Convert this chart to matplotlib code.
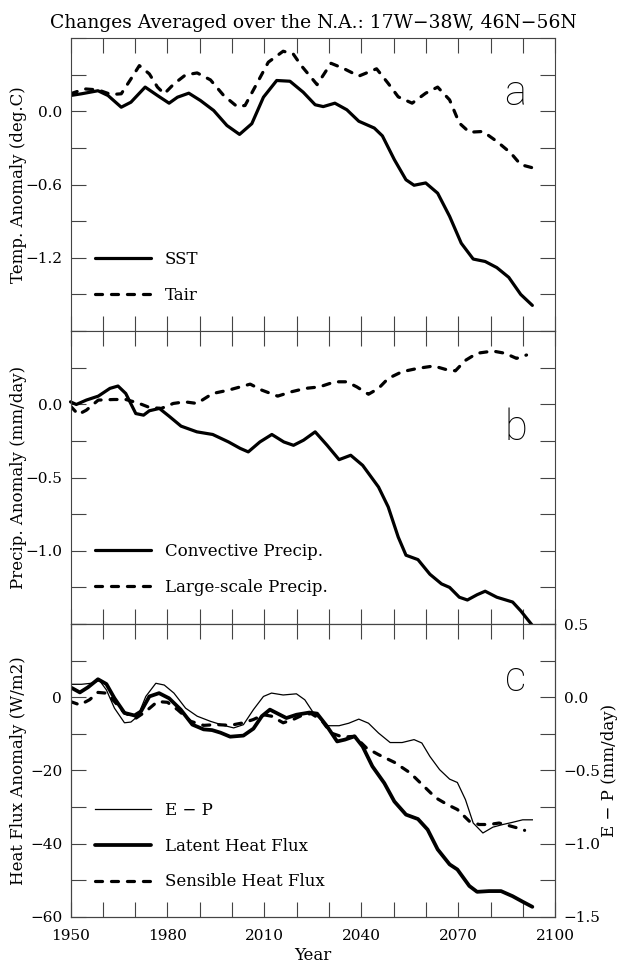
import numpy as np
import matplotlib
matplotlib.use("Agg")
import matplotlib.pyplot as plt
from matplotlib.ticker import MultipleLocator, FixedLocator, FuncFormatter

plt.rcParams['font.family'] = ['DejaVu Serif']
plt.rcParams['axes.linewidth'] = 0.8
plt.rcParams['axes.edgecolor'] = '#444444'

# Panel a: temperature anomaly (deg C)
sst_year = [1950, 1953.4, 1958.5, 1961.6, 1965.7, 1968.7, 1973.1, 1976.9, 1980.5, 1983.1,
            1986.6, 1990.2, 1994.3, 1998.4, 2002.3, 2006.1, 2009.7, 2013.8, 2017.9, 2022,
            2025.7, 2028.2, 2031.8, 2035.5, 2039.2, 2044, 2046.5, 2050.2, 2053.8, 2056.3,
            2059.9, 2063.6, 2067.3, 2070.9, 2074.6, 2078.3, 2081.9, 2085.6, 2089.3, 2092.9]
sst = [0.131, 0.145, 0.17, 0.131, 0.035, 0.076, 0.2, 0.131, 0.068, 0.117,
       0.15, 0.09, 0.008, -0.115, -0.188, -0.10, 0.117, 0.254, 0.248, 0.158,
       0.055, 0.04, 0.068, 0.014, -0.08, -0.136, -0.2, -0.395, -0.56, -0.605,
       -0.586, -0.67, -0.86, -1.08, -1.21, -1.23, -1.28, -1.36, -1.5, -1.59]

tair_year = [1950, 1954.4, 1958.5, 1962.6, 1965.7, 1968.7, 1971.3, 1974.4, 1976.9, 1979,
             1982, 1985.6, 1989.2, 1993.3, 1997.4, 2001.5, 2004, 2007.6, 2011.2, 2015.8,
             2018.9, 2021.4, 2026.3, 2030.6, 2034.3, 2039.2, 2044.7, 2048.3, 2051.4, 2055.7,
             2059.9, 2063.6, 2067.3, 2070.3, 2073.4, 2077.6, 2081.9, 2086.2, 2089.3, 2092.7]
tair = [0.145, 0.185, 0.177, 0.139, 0.145, 0.267, 0.376, 0.308, 0.2, 0.145,
        0.226, 0.30, 0.316, 0.259, 0.131, 0.041, 0.049, 0.226, 0.404, 0.494,
        0.472, 0.376, 0.22, 0.395, 0.355, 0.29, 0.35, 0.23, 0.12, 0.068,
        0.15, 0.2, 0.095, -0.095, -0.17, -0.164, -0.245, -0.34, -0.436, -0.46]

# Panel b: precipitation anomaly (mm/day)
conv_year = [1950, 1951.8, 1954.9, 1958.6, 1962.2, 1964.7, 1967.1, 1970.2, 1972.6, 1974.4,
             1977.5, 1980.5, 1984.2, 1989.1, 1994, 1998.9, 2002.5, 2005, 2008.6, 2012.3,
             2016, 2019, 2022.1, 2025.7, 2029.4, 2033.1, 2036.7, 2040.4, 2045.3, 2048.3,
             2051.4, 2053.8, 2057.5, 2061.2, 2064.8, 2067.3, 2070.3, 2072.8, 2075.8, 2078.3,
             2081.9, 2086.8, 2089.3, 2093.1]
conv = [0.018, 0.0, 0.03, 0.057, 0.11, 0.126, 0.075, -0.062, -0.073, -0.043,
        -0.027, -0.08, -0.148, -0.187, -0.205, -0.256, -0.30, -0.324, -0.256, -0.205,
        -0.256, -0.279, -0.244, -0.187, -0.279, -0.377, -0.347, -0.416, -0.564, -0.70,
        -0.906, -1.03, -1.06, -1.16, -1.226, -1.25, -1.317, -1.336, -1.30, -1.276,
        -1.317, -1.35, -1.41, -1.515]

lsp_year = [1950, 1952.4, 1954.9, 1958.6, 1963.4, 1967.1, 1970.8, 1974.4, 1978.1, 1981.8,
            1985.4, 1989.1, 1994, 1998.9, 2002.5, 2005.6, 2009.2, 2014.1, 2018.4, 2022.7,
            2027, 2031.8, 2035.5, 2038.6, 2042.2, 2045.3, 2048.3, 2052.6, 2057.5, 2062.4,
            2066, 2069.1, 2072.1, 2075.8, 2080.7, 2084.4, 2088, 2091.1]
lsp = [-0.011, -0.068, -0.039, 0.03, 0.034, 0.034, 0.011, -0.02, -0.027, 0.007,
       0.018, 0.007, 0.075, 0.098, 0.12, 0.139, 0.098, 0.057, 0.087, 0.11,
       0.12, 0.155, 0.155, 0.12, 0.07, 0.11, 0.178, 0.224, 0.247, 0.263,
       0.24, 0.23, 0.30, 0.35, 0.365, 0.35, 0.315, 0.338]

# Panel c: E - P (mm/day, right axis) and heat fluxes (W/m2)
ep_year = [1950, 1953.4, 1956.4, 1959, 1961.1, 1963.6, 1966.7, 1968.7, 1970.8, 1973.3,
           1976.4, 1979, 1982, 1985.6, 1989.2, 1993.3, 1997.4, 2000.5, 2003.5, 2006.6,
           2009.7, 2012.2, 2015.8, 2019.9, 2022.5, 2025.1, 2029.4, 2033.1, 2036.1, 2039.2,
           2042.2, 2045.3, 2048.9, 2052.6, 2056.3, 2058.7, 2061.2, 2064.2, 2067.3, 2069.7,
           2072.2, 2074.6, 2077.6, 2080.7, 2083.8, 2086.8, 2089.9, 2092.9]
ep = [0.088, 0.088, 0.095, 0.113, 0.05, -0.075, -0.175, -0.17, -0.13, 0.005,
      0.095, 0.083, 0.028, -0.075, -0.13, -0.165, -0.193, -0.21, -0.188, -0.085,
      0.005, 0.028, 0.015, 0.023, -0.018, -0.105, -0.195, -0.195, -0.178, -0.15,
      -0.178, -0.245, -0.31, -0.31, -0.29, -0.313, -0.405, -0.495, -0.56, -0.583,
      -0.70, -0.86, -0.928, -0.888, -0.87, -0.855, -0.838, -0.838]

lhf_year = [1950, 1952.9, 1955.4, 1958.5, 1961.1, 1963.6, 1966.7, 1969.8, 1971.8, 1974.4,
            1977.4, 1980.5, 1984.1, 1987.7, 1991.2, 1993.8, 1996.4, 1999.4, 2003.5, 2006.6,
            2009.2, 2011.7, 2014.8, 2016.8, 2019.9, 2023.9, 2026.3, 2029.4, 2032.5, 2034.9,
            2037.9, 2040.4, 2043.4, 2047.1, 2050.2, 2053.8, 2057.5, 2060.5, 2063.6, 2067.3,
            2069.7, 2073.4, 2075.8, 2079.5, 2083.2, 2086.8, 2089.9, 2092.9]
lhf = [2.7, 1.3, 2.7, 4.9, 3.6, -0.3, -4.3, -5.0, -3.9, 0.2,
       1.1, -0.3, -3.4, -7.5, -8.8, -9.0, -9.7, -10.8, -10.5, -8.6,
       -5.2, -3.4, -4.8, -5.7, -4.8, -4.2, -4.5, -8.0, -12.1, -11.6,
       -10.7, -13.5, -18.9, -23.5, -28.5, -32.1, -33.3, -36.2, -41.6, -45.7,
       -47.1, -51.6, -53.2, -53.0, -53.0, -54.4, -55.9, -57.3]

shf_year = [1950, 1952.9, 1955.9, 1958.5, 1961.1, 1963.6, 1966.7, 1970.3, 1973.3, 1976.9,
            1980, 1983.1, 1987.2, 1991.2, 1995.3, 1999.4, 2003.5, 2006.6, 2009.7, 2012.2,
            2015.8, 2018.9, 2022, 2024.5, 2027.6, 2030.6, 2034.3, 2037.9, 2041.6, 2045.3,
            2050.2, 2055.1, 2059.4, 2063, 2066.7, 2069.7, 2073.4, 2076.4, 2079.5, 2082.6,
            2085.6, 2088.1, 2090.5]
shf = [-1.2, -2.1, -0.7, 1.3, 1.1, -1.2, -4.3, -5.7, -3.9, -1.2,
       -1.4, -3.4, -6.6, -7.7, -7.5, -7.7, -7.0, -6.1, -4.8, -5.2,
       -7.0, -6.1, -4.8, -4.5, -6.2, -9.8, -10.9, -10.7, -13.9, -15.7,
       -17.8, -20.7, -24.4, -27.5, -29.4, -30.7, -33.9, -34.8, -34.8, -34.4,
       -35.1, -35.7, -36.4]

# labelled ticks
ticks_a = [-1.2, -0.6, 0.0]
ticks_b = [-1.0, -0.5, 0.0]
ticks_c = [-60, -40, -20, 0]
ticks_ep = [-1.5, -1.0, -0.5, 0.0, 0.5]
year_ticks = [1950, 1980, 2010, 2040, 2070, 2100]

THICK = 2.3
DASH = dict(linestyle=(0, (2.2, 2.8)), dash_capstyle='round', lw=THICK, color='black')
SOLID = dict(linestyle='-', lw=THICK, color='black', solid_capstyle='round',
             solid_joinstyle='round')
TICK_COLOR = '#444444'


def minus_fmt(fmt):
    return FuncFormatter(lambda v, p: (fmt % v).replace('-', '\u2212'))


fig = plt.figure(figsize=(6.19, 9.65), dpi=100)
W, H = 619.0, 965.0
x0, x1 = 70.5, 555.3
ph = 292.7
ax_a = fig.add_axes([x0 / W, (H - 331) / H, (x1 - x0) / W, ph / H])
ax_b = fig.add_axes([x0 / W, (H - 624) / H, (x1 - x0) / W, ph / H])
ax_c = fig.add_axes([x0 / W, (H - 916.7) / H, (x1 - x0) / W, ph / H])
ax_c2 = ax_c.twinx()


def style(ax, major, minor, ylim, fmt, xlabels):
    ax.set_xlim(1950, 2100)
    ax.set_ylim(*ylim)
    ax.xaxis.set_major_locator(FixedLocator(year_ticks))
    ax.xaxis.set_minor_locator(MultipleLocator(10))
    ax.yaxis.set_major_locator(FixedLocator(major))
    ax.yaxis.set_minor_locator(MultipleLocator(minor))
    ax.yaxis.set_major_formatter(minus_fmt(fmt))
    ax.tick_params(which='both', direction='in', length=11, width=0.8,
                   top=True, right=True, labelsize=11, color=TICK_COLOR)
    ax.tick_params(axis='y', pad=6)
    ax.tick_params(axis='x', pad=9)
    if not xlabels:
        ax.tick_params(axis='x', labelbottom=False)


style(ax_a, ticks_a, 0.3, (-1.8, 0.6), '%.1f', False)
style(ax_b, ticks_b, 0.25, (-1.5, 0.5), '%.1f', False)
style(ax_c, ticks_c, 10, (-60, 20), '%d', True)

ax_c2.set_ylim(-1.5, 0.5)
ax_c2.yaxis.set_major_locator(FixedLocator(ticks_ep))
ax_c2.yaxis.set_minor_locator(MultipleLocator(0.25))
ax_c2.yaxis.set_major_formatter(minus_fmt('%.1f'))
ax_c2.tick_params(which='both', direction='in', length=11, width=0.8, labelsize=11,
                  pad=6, color=TICK_COLOR)
ax_c.tick_params(axis='y', which='both', right=False)

# panel a
ax_a.plot(sst_year, sst, label='SST', **SOLID)
ax_a.plot(tair_year, tair, label='Tair', **DASH)

# panel b
ax_b.plot(conv_year, conv, label='Convective Precip.', clip_on=False, **SOLID)
ax_b.plot(lsp_year, lsp, label='Large-scale Precip.', **DASH)

# panel c
h_ep, = ax_c2.plot(ep_year, ep, color='black', lw=0.9, label='E \u2212 P')
h_lh, = ax_c.plot(lhf_year, lhf, label='Latent Heat Flux', **dict(SOLID, lw=2.7))
h_sh, = ax_c.plot(shf_year, shf, label='Sensible Heat Flux', **DASH)

leg_kw = dict(frameon=False, fontsize=12, handlelength=3.4, handletextpad=0.8,
              labelspacing=1.17, borderpad=0, borderaxespad=0, loc='lower left')
ax_a.legend(bbox_to_anchor=(0.05, 0.092), **leg_kw)
ax_b.legend(bbox_to_anchor=(0.05, 0.095), **leg_kw)
leg_kw['labelspacing'] = 1.12
ax_c.legend(handles=[h_ep, h_lh, h_sh], bbox_to_anchor=(0.05, 0.09), **leg_kw)

# panel letters
for ax, letter, yy in [(ax_a, 'a', 0.81), (ax_b, 'b', 0.667), (ax_c, 'c', 0.81)]:
    ax.text(0.918, yy, letter, transform=ax.transAxes, ha='center', va='center',
            fontsize=30, family=['Roboto', 'DejaVu Sans'], fontweight='light')

ax_a.set_ylabel('Temp. Anomaly (deg.C)', fontsize=12)
ax_b.set_ylabel('Precip. Anomaly (mm/day)', fontsize=12)
ax_c.set_ylabel('Heat Flux Anomaly (W/m2)', fontsize=12)
for ax in (ax_a, ax_b, ax_c):
    ax.yaxis.set_label_coords(-0.09, 0.5)
ax_c2.set_ylabel('E \u2212 P (mm/day)', fontsize=12)
ax_c2.yaxis.set_label_coords(1.095, 0.5)
ax_c.set_xlabel('Year', fontsize=12)
ax_c.xaxis.set_label_coords(0.5, -0.105)

fig.text((x0 + x1) / 2 / W, 1 - 22.7 / H,
         'Changes Averaged over the N.A.: 17W\u221238W, 46N\u221256N',
         ha='center', va='center', fontsize=13.5)

fig.savefig('out.png', dpi=100)
